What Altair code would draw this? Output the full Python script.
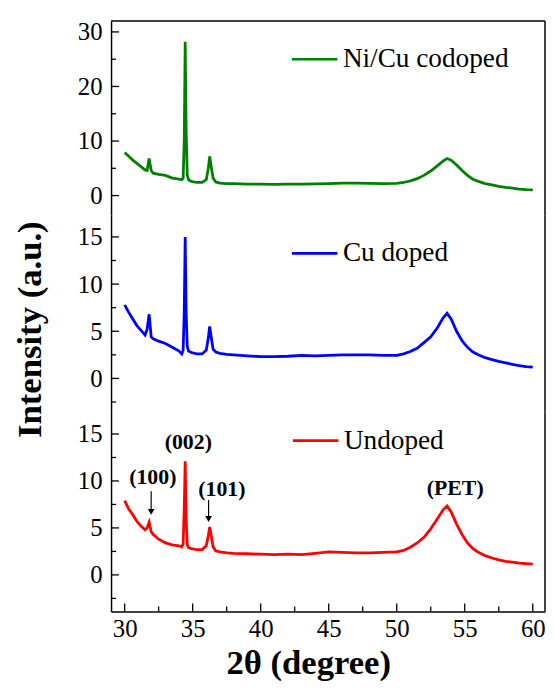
import altair as alt
import pandas as pd

# ---- data ----
two_theta = [30, 30.3, 30.6, 30.9, 31.2, 31.5, 31.65, 31.8, 31.95, 32.1, 32.5, 33.0, 33.5,
             34.0, 34.2, 34.3, 34.38, 34.45, 34.52, 34.6, 34.7, 34.9, 35.3, 35.7, 36.0,
             36.15, 36.25, 36.35, 36.5, 36.7, 37.0, 37.5, 38, 39, 40, 41, 42, 43, 44, 45,
             46, 47, 48, 49, 50, 50.5, 51, 51.5, 52, 52.5, 53, 53.4, 53.7, 54.0, 54.4,
             54.8, 55.2, 55.6, 56, 56.5, 57, 57.5, 58, 58.5, 59, 59.5, 60]

nicu_codoped = [7.9, 7.2, 6.5, 5.9, 5.3, 4.7, 4.6, 6.8, 4.6, 4.1, 3.9, 3.7, 3.2,
                3.0, 2.9, 3.2, 10.0, 28.2, 12.0, 3.8, 2.9, 2.6, 2.4, 2.4, 2.9,
                5.0, 7.2, 5.5, 3.2, 2.5, 2.3, 2.2, 2.2, 2.1, 2.1, 2.05, 2.1, 2.1, 2.15, 2.2,
                2.3, 2.3, 2.25, 2.2, 2.25, 2.4, 2.7, 3.1, 3.7, 4.5, 5.5, 6.3, 6.8, 6.5, 5.6,
                4.6, 3.7, 3.0, 2.6, 2.2, 1.95, 1.7, 1.5, 1.35, 1.2, 1.1, 1.05]

cu_doped = [7.8, 7.0, 6.3, 5.6, 5.1, 4.6, 5.2, 6.8, 4.4, 4.2, 3.95, 3.7, 3.3,
            2.9, 2.6, 3.0, 7.0, 15.0, 7.0, 3.4, 2.9, 2.75, 2.6, 2.6, 3.0,
            4.3, 5.5, 4.5, 3.1, 2.8, 2.65, 2.55, 2.5, 2.4, 2.3, 2.3, 2.35, 2.45, 2.4, 2.45,
            2.5, 2.5, 2.5, 2.45, 2.45, 2.6, 2.85, 3.2, 3.8, 4.4, 5.4, 6.4, 6.9, 6.3, 5.0,
            4.0, 3.3, 2.8, 2.5, 2.2, 2.0, 1.8, 1.65, 1.5, 1.35, 1.25, 1.2]

undoped = [7.9, 7.0, 6.4, 5.7, 5.2, 4.8, 5.0, 5.6, 4.6, 4.3, 3.8, 3.4, 3.2,
           3.1, 3.0, 3.3, 7.0, 12.1, 6.0, 3.2, 2.9, 2.8, 2.7, 2.7, 3.1,
           4.2, 5.1, 4.3, 3.0, 2.55, 2.45, 2.35, 2.3, 2.25, 2.2, 2.15, 2.2, 2.15, 2.3, 2.45,
           2.4, 2.35, 2.35, 2.4, 2.45, 2.6, 2.95, 3.4, 4.0, 4.9, 6.0, 6.9, 7.35, 6.7, 5.4,
           4.3, 3.4, 2.8, 2.4, 2.05, 1.8, 1.6, 1.45, 1.35, 1.25, 1.2, 1.15]

series_names = ["Ni/Cu codoped", "Cu doped", "Undoped"]
series_colors = ["#008000", "#0000FF", "#FF0000"]

x_major = [30, 35, 40, 45, 50, 55, 60]
x_minor = [32.5, 37.5, 42.5, 47.5, 52.5, 57.5]

top_major = [0, 10, 20, 30]
top_minor = [5, 15, 25]
low_major = [0, 5, 10, 15]
low_minor = [-2.5, 2.5, 7.5, 12.5]

ann_labels = ["(100)", "(002)", "(101)", "(PET)"]
ann_x = [32.07, 34.68, 37.15, 54.3]
ann_y = [10.4, 14.1, 9.1, 9.2]

arrow_x = [31.95, 36.17]
arrow_from = [8.9, 7.96]
arrow_to = [6.7, 5.95]

# ---- layout ----
W = 438
X_DOMAIN = [29, 60.9]
FONT = "Liberation Serif"


def panel(name, color, values, y_dom, y_major, y_minor, h, legend_xy,
          y_title=None, bottom=False, top=False, extra=None):
    df = pd.DataFrame({"x": two_theta, "y": values, "s": name})
    xscale = alt.Scale(domain=X_DOMAIN, nice=False, zero=False)
    yscale = alt.Scale(domain=y_dom, nice=False, zero=False)
    if bottom:
        xaxis = alt.Axis(values=x_major, ticks=False, grid=False, labelPadding=5,
                         labelFlush=False, title="2θ (degree)", titleFontSize=35,
                         titleFontWeight="bold", titlePadding=5, titleX=199)
    else:
        xaxis = None
    yaxis_kw = dict(values=y_major, ticks=False, grid=False, labelPadding=9)
    if y_title:
        yaxis = alt.Axis(title=y_title, titleFontSize=35, titleFontWeight="bold",
                         titlePadding=30, titleY=115, **yaxis_kw)
    else:
        yaxis = alt.Axis(title=None, **yaxis_kw)

    X = lambda f: alt.X(f, scale=xscale, axis=xaxis)
    Y = lambda f: alt.Y(f, scale=yscale, axis=yaxis)

    line = alt.Chart(df).mark_line(strokeWidth=2.8, clip=True).encode(
        x=X("x:Q"), y=Y("y:Q"),
        color=alt.Color("s:N", scale=alt.Scale(domain=[name], range=[color]),
                        legend=alt.Legend(orient="none", legendX=legend_xy[0],
                                          legendY=legend_xy[1], title=None,
                                          symbolType="stroke", symbolSize=2116,
                                          symbolStrokeWidth=2.6, labelFont=FONT,
                                          labelFontSize=27.5, labelColor="black",
                                          labelOffset=4, padding=0, labelLimit=400)),
    )

    maj = alt.Chart(pd.DataFrame({"y": y_major})).mark_rule(color="black", strokeWidth=1.3).encode(
        y=Y("y:Q"), x=alt.value(0), x2=alt.value(8))
    mnr = alt.Chart(pd.DataFrame({"y": y_minor})).mark_rule(color="black", strokeWidth=1.3).encode(
        y=Y("y:Q"), x=alt.value(0), x2=alt.value(5))
    right = alt.Chart(pd.DataFrame({"y": [y_dom[0]], "y2": [y_dom[1]]})).mark_rule(
        color="black", strokeWidth=1.5).encode(x=alt.value(W), y=Y("y:Q"), y2="y2:Q")
    layers = [line, maj, mnr, right]
    if top:
        layers.append(alt.Chart(pd.DataFrame({"y": [y_dom[1]]})).mark_rule(
            color="black", strokeWidth=1.5).encode(x=alt.value(0), x2=alt.value(W), y=Y("y:Q")))
    if bottom:
        layers.append(alt.Chart(pd.DataFrame({"x": x_major})).mark_rule(color="black", strokeWidth=1.3).encode(
            x=X("x:Q"), y=alt.value(h), y2=alt.value(h - 8)))
        layers.append(alt.Chart(pd.DataFrame({"x": x_minor})).mark_rule(color="black", strokeWidth=1.3).encode(
            x=X("x:Q"), y=alt.value(h), y2=alt.value(h - 5)))
    if extra:
        layers.extend(extra(X, Y))
    return alt.layer(*layers).properties(width=W, height=h)


def annotations(X, Y):
    adf = pd.DataFrame({"label": ann_labels, "x": ann_x, "y": ann_y})
    text = alt.Chart(adf).mark_text(font=FONT, fontSize=22, fontWeight="bold",
                                    color="black").encode(
        x=X("x:Q"), y=Y("y:Q"), text="label:N")
    ardf = pd.DataFrame({"x": arrow_x, "y": arrow_from, "y2": arrow_to})
    shaft = alt.Chart(ardf).mark_rule(color="black", strokeWidth=1.2).encode(
        x=X("x:Q"), y=Y("y:Q"), y2="y2:Q")
    hdf = pd.DataFrame({"x": arrow_x, "y": arrow_to})
    head = alt.Chart(hdf).mark_point(shape="triangle-down", filled=True, color="black",
                                     size=45, opacity=1).encode(x=X("x:Q"), y=Y("y:Q"))
    return [text, shaft, head]


p_top = panel(series_names[0], series_colors[0], nicu_codoped, [-3.6, 32], top_major,
              top_minor, 196, (181, 14), top=True)
p_mid = panel(series_names[1], series_colors[1], cu_doped, [-3.6, 17.3], low_major,
              low_minor, 199, (181, 14), y_title="Intensity (a.u.)")
p_bot = panel(series_names[2], series_colors[2], undoped, [-3.9, 17.3], low_major,
              low_minor, 201, (182, 4), bottom=True, extra=annotations)

chart = alt.vconcat(p_top, p_mid, p_bot, spacing=0, bounds="flush").resolve_scale(
    y="independent", color="independent"
).resolve_legend(color="independent").properties(
    padding={"left": 5, "top": 9, "right": 0, "bottom": 0}
).configure(font=FONT).configure_view(stroke=None).configure_axis(
    domainColor="black", domainWidth=1.5, labelColor="black", titleColor="black",
    labelFont=FONT, titleFont=FONT, labelFontSize=25, labelFontWeight="normal"
).configure_legend(labelFont=FONT).configure_text(font=FONT)

chart.save("out.html", embed_options={"renderer": "svg", "actions": False})
